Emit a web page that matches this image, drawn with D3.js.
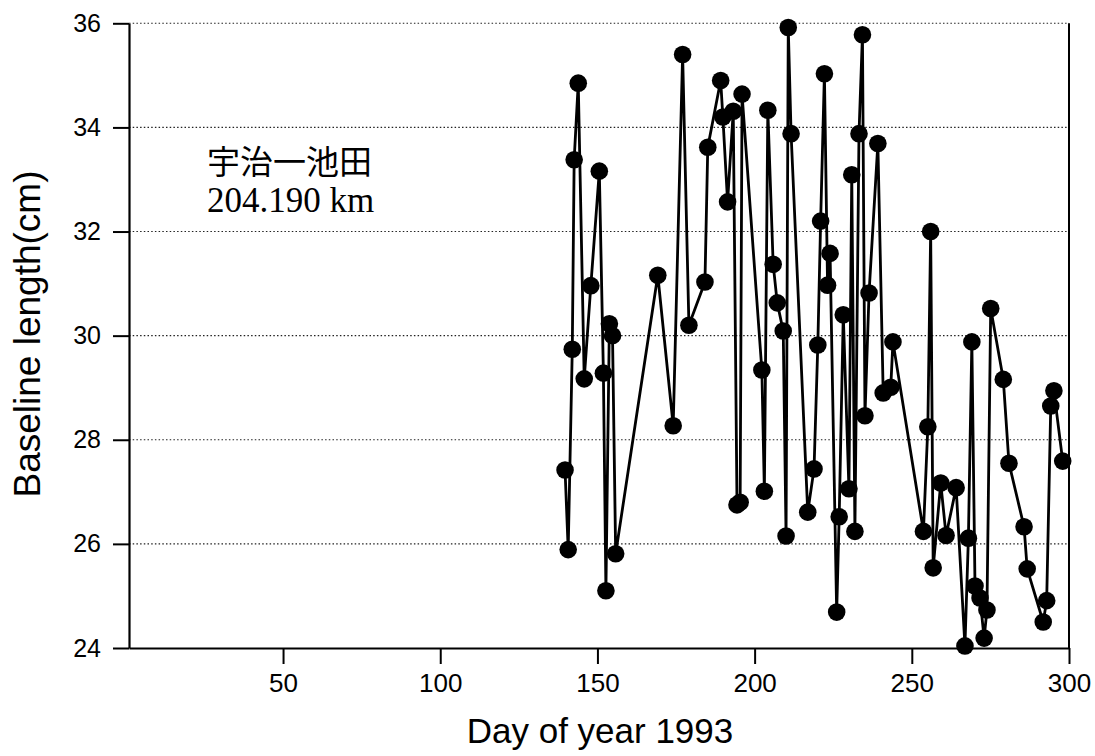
<!DOCTYPE html>
<html>
<head>
<meta charset="utf-8">
<script src="https://cdn.jsdelivr.net/npm/d3@7/dist/d3.min.js"></script>
<style>
  html, body { margin: 0; padding: 0; background: #fff; }
  svg { display: block; }
</style>
</head>
<body>
<svg id="chart" width="1095" height="756"></svg>
<script>
// ---- Data ----
const days = [139.7, 140.7, 142.0, 142.6, 143.9, 145.8, 147.9, 150.6, 151.9, 152.7,
  153.8, 154.8, 155.8, 169.2, 174.1, 177.1, 179.1, 184.2, 185.1, 189.2,
  189.9, 191.4, 193.2, 194.4, 195.4, 196.0, 202.3, 203.1, 204.2, 205.9,
  207.2, 209.1, 210.0, 210.7, 211.6, 216.9, 218.9, 220.1, 221.0, 222.2,
  223.2, 224.0, 226.1, 226.9, 228.2, 230.0, 230.9, 231.9, 233.2, 234.3,
  235.1, 236.4, 239.2, 240.9, 243.3, 244.0, 253.7, 255.1, 256.0, 256.8,
  259.2, 260.9, 264.1, 266.9, 268.0, 269.1, 270.1, 271.7, 273.0, 273.9,
  275.1, 279.1, 280.9, 285.7, 286.7, 291.8, 292.9, 294.2, 295.2, 298.0];
const lengths = [27.42, 25.89, 29.74, 33.38, 34.85, 29.17, 30.96, 33.16, 29.28, 25.10,
  30.23, 30.00, 25.81, 31.16, 28.27, 35.40, 30.20, 31.03, 33.62, 34.90,
  34.20, 32.57, 34.31, 26.75, 26.80, 34.64, 29.34, 27.01, 34.33, 31.37,
  30.63, 30.09, 26.15, 35.92, 33.88, 26.61, 27.44, 29.82, 32.20, 35.03,
  30.97, 31.58, 24.69, 26.52, 30.40, 27.06, 33.09, 26.24, 33.88, 35.78,
  28.46, 30.82, 33.69, 28.90, 29.01, 29.88, 26.24, 28.25, 32.00, 25.54,
  27.17, 26.16, 27.08, 24.04, 26.11, 29.88, 25.19, 24.96, 24.19, 24.73,
  30.52, 29.16, 27.55, 26.33, 25.52, 24.50, 24.91, 28.65, 28.94, 27.59];
const xTicks = [50, 100, 150, 200, 250, 300];
const yTicks = [24, 26, 28, 30, 32, 34, 36];
const xDomain = [1, 300];
const yDomain = [24, 36];
const xTitle = "Day of year 1993";
const yTitle = "Baseline length(cm)";
const labelLine1 = "宇治一池田";
const labelLine2 = "204.190 km";

(function () {
  // ---- Layout ----
  const mLeft = 129, mRight = 1069, mTop = 23.3, mBottom = 648;
  const svg = d3.select("#chart");
  const x = d3.scaleLinear().domain(xDomain).range([mLeft, mRight]);
  const y = d3.scaleLinear().domain(yDomain).range([mBottom, mTop]);
  const sans = "'Liberation Sans', Arial, Helvetica, sans-serif";

  // gridlines (dotted)
  svg.append("g").selectAll("line")
    .data(yTicks.filter(t => t > yDomain[0]))
    .join("line")
    .attr("x1", mLeft).attr("x2", mRight)
    .attr("y1", d => y(d)).attr("y2", d => y(d))
    .attr("stroke", "#222").attr("stroke-width", 1.1)
    .attr("stroke-dasharray", "1.5,2.2");

  // right frame line
  svg.append("line")
    .attr("x1", mRight).attr("x2", mRight).attr("y1", mTop).attr("y2", mBottom)
    .attr("stroke", "#000").attr("stroke-width", 2);

  // x axis
  const xAxis = svg.append("g")
    .attr("transform", `translate(0,${mBottom})`)
    .call(d3.axisBottom(x).tickValues(xTicks).tickSize(16).tickPadding(10).tickSizeOuter(0));
  xAxis.select(".domain").attr("stroke-width", 2.2);
  xAxis.selectAll(".tick line").attr("stroke-width", 2);
  xAxis.selectAll("text").attr("font-family", sans).attr("font-size", 26).attr("fill", "#000");

  // y axis
  const yAxis = svg.append("g")
    .attr("transform", `translate(${mLeft},0)`)
    .call(d3.axisLeft(y).tickValues(yTicks).tickSize(16).tickPadding(12).tickSizeOuter(0));
  yAxis.select(".domain").attr("stroke-width", 2.2);
  yAxis.selectAll(".tick line").attr("stroke-width", 2);
  yAxis.selectAll("text").attr("font-family", sans).attr("font-size", 25).attr("fill", "#000");

  // data line
  const pts = days.map((d, i) => [d, lengths[i]]);
  svg.append("path")
    .datum(pts)
    .attr("fill", "none")
    .attr("stroke", "#000")
    .attr("stroke-width", 2.8)
    .attr("stroke-linejoin", "round")
    .attr("d", d3.line().x(d => x(d[0])).y(d => y(d[1])));

  // data points
  svg.append("g").selectAll("circle")
    .data(pts)
    .join("circle")
    .attr("cx", d => x(d[0]))
    .attr("cy", d => y(d[1]))
    .attr("r", 8.8)
    .attr("fill", "#000");

  // annotation
  svg.append("text")
    .attr("x", 207).attr("y", 174)
    .attr("font-family", "'Noto Sans CJK JP', 'Noto Sans CJK SC', sans-serif")
    .attr("font-size", 33)
    .attr("fill", "#000")
    .text(labelLine1);
  svg.append("text")
    .attr("x", 207).attr("y", 212)
    .attr("font-family", "'Liberation Serif', 'Times New Roman', serif")
    .attr("font-size", 35)
    .attr("fill", "#000")
    .text(labelLine2);

  // axis titles
  svg.append("text")
    .attr("x", 600).attr("y", 743)
    .attr("text-anchor", "middle")
    .attr("font-family", sans).attr("font-size", 35)
    .attr("fill", "#000")
    .text(xTitle);
  svg.append("text")
    .attr("transform", `translate(40,334) rotate(-90)`)
    .attr("text-anchor", "middle")
    .attr("font-family", sans).attr("font-size", 37)
    .attr("fill", "#000")
    .text(yTitle);
})();
</script>
</body>
</html>
